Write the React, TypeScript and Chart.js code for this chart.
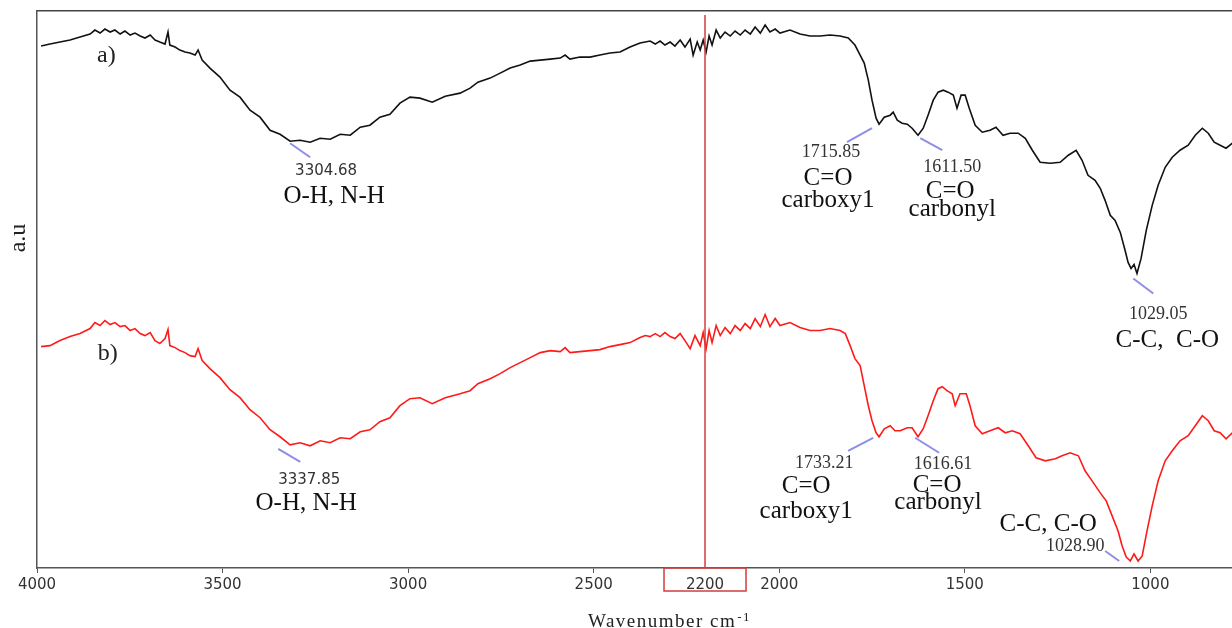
import React, { useEffect, useRef } from "react";
import { Chart, registerables } from "chart.js";

Chart.register(...registerables);

// ---- Spectrum a) (black) ----
const wavenumbersA = [
  3989, 3965, 3938, 3911, 3884, 3857, 3844, 3830, 3817, 3803,
  3790, 3776, 3763, 3749, 3736, 3722, 3709, 3695, 3682, 3669,
  3655, 3647, 3642, 3628, 3615, 3601, 3588, 3574, 3566, 3555,
  3534, 3507, 3480, 3453, 3426, 3399, 3372, 3345, 3318, 3291,
  3264, 3237, 3210, 3183, 3156, 3129, 3103, 3076, 3049, 3022,
  2995, 2968, 2935, 2900, 2860, 2833, 2812, 2779, 2752, 2725,
  2698, 2671, 2644, 2617, 2590, 2577, 2564, 2537, 2510, 2483,
  2456, 2429, 2402, 2375, 2361, 2348, 2334, 2321, 2308, 2294,
  2281, 2267, 2254, 2240, 2232, 2221, 2213, 2205, 2197, 2189,
  2181, 2170, 2159, 2146, 2132, 2119, 2105, 2092, 2078, 2065,
  2051, 2038, 2025, 2011, 1998, 1971, 1944, 1917, 1890, 1863,
  1836, 1814, 1796, 1782, 1771, 1760, 1750, 1739, 1731, 1717,
  1701, 1693, 1682, 1669, 1655, 1642, 1626, 1612, 1599, 1585,
  1572, 1558, 1545, 1531, 1521, 1510, 1499, 1488, 1472, 1453,
  1432, 1416, 1397, 1378, 1356, 1337, 1318, 1297, 1270, 1243,
  1221, 1200, 1184, 1168, 1149, 1135, 1122, 1108, 1095, 1081,
  1068, 1060, 1052, 1044, 1036, 1025, 1011, 995, 979, 960,
  941, 920, 898, 879, 860, 844, 828, 812, 796, 779,
];
const intensityA = [
  521, 523, 525, 527, 530, 533, 537, 534, 538, 535,
  537, 533, 536, 532, 534, 531, 529, 532, 527, 525,
  523, 535, 522, 520, 517, 515, 514, 512, 517, 507,
  499, 490, 477, 470, 457, 450, 437, 433, 426, 427,
  425, 429, 428, 433, 432, 440, 442, 450, 453, 464,
  470, 469, 465, 471, 474, 479, 485, 489, 494, 499,
  502, 506, 507, 508, 509, 512, 508, 510, 510, 512,
  514, 515, 520, 524, 525, 526, 523, 526, 522, 525,
  521, 527, 520, 528, 512, 525, 517, 527, 515, 531,
  522, 537, 529, 535, 531, 536, 532, 537, 533, 540,
  534, 542, 535, 538, 534, 537, 533, 531, 531, 532,
  531, 529, 522, 512, 504, 487, 467, 449, 443, 450,
  452, 455, 447, 444, 443, 439, 432, 439, 452, 467,
  475, 477, 475, 472, 459, 472, 472, 459, 442, 435,
  437, 440, 432, 434, 434, 429, 417, 405, 404, 405,
  412, 417, 407, 392, 387, 379, 367, 352, 347, 335,
  317, 305, 299, 303, 294, 309, 337, 362, 382, 400,
  410, 417, 422, 432, 439, 434, 425, 422, 419, 424,
];

// ---- Spectrum b) (red) ----
const wavenumbersB = [
  3989, 3965, 3938, 3911, 3884, 3857, 3844, 3830, 3817, 3803,
  3790, 3776, 3763, 3749, 3736, 3722, 3709, 3695, 3682, 3669,
  3655, 3647, 3642, 3628, 3615, 3601, 3588, 3574, 3566, 3555,
  3534, 3507, 3480, 3453, 3426, 3399, 3372, 3345, 3318, 3291,
  3264, 3237, 3210, 3183, 3156, 3129, 3103, 3076, 3049, 3022,
  2995, 2968, 2935, 2900, 2860, 2833, 2812, 2779, 2752, 2725,
  2698, 2671, 2644, 2617, 2590, 2577, 2564, 2537, 2510, 2483,
  2456, 2429, 2402, 2375, 2361, 2348, 2334, 2321, 2308, 2294,
  2281, 2267, 2254, 2240, 2227, 2213, 2205, 2197, 2189, 2181,
  2170, 2159, 2146, 2132, 2119, 2105, 2092, 2078, 2065, 2051,
  2038, 2025, 2011, 1998, 1971, 1944, 1917, 1890, 1863, 1836,
  1822, 1809, 1796, 1782, 1771, 1760, 1750, 1739, 1731, 1717,
  1701, 1688, 1674, 1655, 1642, 1626, 1612, 1599, 1585, 1572,
  1561, 1548, 1534, 1526, 1513, 1496, 1486, 1472, 1453, 1432,
  1410, 1391, 1372, 1351, 1329, 1308, 1283, 1256, 1238, 1216,
  1194, 1176, 1157, 1135, 1119, 1103, 1087, 1076, 1065, 1054,
  1044, 1033, 1022, 1009, 995, 979, 960, 941, 920, 898,
  879, 860, 844, 828, 812, 796, 779,
];
const intensityB = [
  221, 222, 227, 231, 234, 239, 245, 242, 247, 243,
  245, 241, 242, 237, 239, 234, 232, 235, 227, 224,
  229, 238, 222, 220, 217, 215, 212, 211, 219, 207,
  199, 190, 178, 170, 158, 150, 138, 131, 123, 125,
  122, 127, 125, 130, 129, 136, 138, 146, 150, 162,
  169, 170, 164, 170, 174, 177, 184, 189, 194, 200,
  205, 210, 215, 217, 216, 220, 215, 216, 217, 218,
  221, 223, 225, 230, 232, 231, 234, 231, 235, 231,
  229, 234, 227, 219, 232, 222, 235, 219, 237, 225,
  242, 232, 240, 234, 242, 237, 244, 239, 249, 241,
  253, 241, 249, 242, 245, 240, 237, 237, 239, 237,
  234, 222, 209, 202, 182, 162, 147, 135, 131, 139,
  142, 137, 137, 140, 140, 131, 139, 152, 167, 179,
  181, 177, 174, 162, 174, 174, 162, 142, 134, 137,
  140, 135, 137, 134, 122, 110, 107, 109, 112, 115,
  112, 97, 87, 75, 67, 52, 37, 22, 11, 7,
  14, 7, 12, 37, 62, 87, 107, 117, 127, 132,
  142, 152, 147, 137, 135, 129, 135,
];

// ---- Axis / markers ----
const tickValues = [4000, 3500, 3000, 2500, 2200, 2000, 1500, 1000];
const markerWavenumber = 2200;
const markerTop = 552;
const xMin = 780;
const xMax = 4000;
const yMin = 0;
const yMax = 556;

const xTitle = "Wavenumber cm";
const xTitleSup = "-1";
const yTitle = "a.u";

// series labels: [text, wavenumber, intensity]
const seriesLabels: [string, number, number][] = [
  ["a)", 3838, 505],
  ["b)", 3836, 208],
];

// peak annotations: anchor on curve, leader offset, text lines [text, dx, dy, style]
type PeakNote = {
  x: number;
  y: number;
  lead: [number, number, number, number];
  texts: [string, number, number, string][];
};
const peakNotes: PeakNote[] = [
  { x: 3318, y: 424, lead: [0, 0, 20, 14], texts: [["3304.68", 36, 32, "numSans"], ["O-H, N-H", 44, 60, "big"]] },
  { x: 1750, y: 439, lead: [0, 0, -25, 14], texts: [["1715.85", -41, 29, "numSerif"], ["C=O", -44, 57, "big"], ["carboxy1", -44, 79, "big"]] },
  { x: 1620, y: 429, lead: [0, 0, 22, 12], texts: [["1611.50", 32, 34, "numSerif"], ["C=O", 30, 60, "big"], ["carbonyl", 32, 78, "big"]] },
  { x: 1046, y: 289, lead: [0, 0, 20, 15], texts: [["1029.05", 25, 41, "numSerif"], ["C-C,  C-O", 34, 69, "big"]] },
  { x: 3350, y: 119, lead: [0, 0, 22, 13], texts: [["3337.85", 31, 35, "numSans"], ["O-H, N-H", 28, 61, "big"]] },
  { x: 1747, y: 130, lead: [0, 0, -25, 13], texts: [["1733.21", -49, 30, "numSerif"], ["C=O", -67, 55, "big"], ["carboxy1", -67, 80, "big"]] },
  { x: 1634, y: 130, lead: [0, 0, 24, 15], texts: [["1616.61", 28, 31, "numSerif"], ["C=O", 22, 54, "big"], ["carbonyl", 23, 71, "big"]] },
  { x: 1084, y: 7, lead: [0, 0, -14, -10], texts: [["1028.90", -44, -10, "numSerif"], ["C-C, C-O", -71, -30, "big"]] },
];

const fonts: Record<string, string> = {
  numSans: '15px "DejaVu Sans"',
  numSerif: '18px "Liberation Serif"',
  big: '25px "Liberation Serif"',
  series: '24px "Liberation Serif"',
};
const textColors: Record<string, string> = {
  numSans: "#333",
  numSerif: "#333",
  big: "#111",
  series: "#222",
};

const overlayPlugin = {
  id: "ftirOverlay",
  afterDatasetsDraw(chart: any) {
    const { ctx, chartArea, scales } = chart;
    const xs = scales.x;
    const ys = scales.y;
    ctx.save();

    // red box around 2200 label
    const bx = xs.getPixelForValue(markerWavenumber);
    ctx.strokeStyle = "#d43c3c";
    ctx.lineWidth = 1.5;
    ctx.strokeRect(bx - 41, chartArea.bottom, 82, 23);

    // peak notes
    for (const n of peakNotes) {
      const px = xs.getPixelForValue(n.x);
      const py = ys.getPixelForValue(n.y);
      ctx.strokeStyle = "#8e8ee6";
      ctx.lineWidth = 2;
      ctx.beginPath();
      ctx.moveTo(px + n.lead[0], py + n.lead[1]);
      ctx.lineTo(px + n.lead[2], py + n.lead[3]);
      ctx.stroke();
      ctx.textAlign = "center";
      ctx.textBaseline = "alphabetic";
      for (const t of n.texts) {
        ctx.font = fonts[t[3]];
        ctx.fillStyle = textColors[t[3]];
        ctx.fillText(t[0], px + t[1], py + t[2]);
      }
    }

    // series labels
    ctx.textAlign = "left";
    ctx.font = fonts.series;
    ctx.fillStyle = textColors.series;
    for (const s of seriesLabels) {
      ctx.fillText(s[0], xs.getPixelForValue(s[1]), ys.getPixelForValue(s[2]));
    }

    // x title with superscript
    ctx.fillStyle = "#222";
    ctx.font = '19px "Liberation Serif"';
    (ctx as any).letterSpacing = "1.5px";
    const tx = chartArea.left + 551;
    const ty = chart.height - 1;
    ctx.fillText(xTitle, tx, ty);
    const w = ctx.measureText(xTitle).width;
    ctx.font = '13px "Liberation Serif"';
    ctx.fillText(xTitleSup, tx + w + 1, ty - 6);
    (ctx as any).letterSpacing = "0px";

    // y title
    ctx.save();
    ctx.translate(chartArea.left - 12, chartArea.top + 227);
    ctx.rotate(-Math.PI / 2);
    ctx.textAlign = "center";
    ctx.font = '24px "Liberation Serif"';
    ctx.fillStyle = "#222";
    ctx.fillText(yTitle, 0, 0);
    ctx.restore();

    ctx.restore();
  },
};

export default function App() {
  const canvasRef = useRef<HTMLCanvasElement | null>(null);

  useEffect(() => {
    if (!canvasRef.current) return;
    const chart = new Chart(canvasRef.current, {
      type: "line",
      data: {
        datasets: [
          {
            label: "2200 marker",
            data: [
              { x: markerWavenumber, y: yMin },
              { x: markerWavenumber, y: markerTop },
            ],
            borderColor: "#d43c3c",
            borderWidth: 1.5,
            pointRadius: 0,
            order: -1,
          },
          {
            label: "a)",
            data: wavenumbersA.map((x, i) => ({ x, y: intensityA[i] })),
            borderColor: "#111111",
            borderWidth: 1.6,
            pointRadius: 0,
            tension: 0,
          },
          {
            label: "b)",
            data: wavenumbersB.map((x, i) => ({ x, y: intensityB[i] })),
            borderColor: "#ff1a1a",
            borderWidth: 1.6,
            pointRadius: 0,
            tension: 0,
          },
        ],
      },
      options: {
        animation: false,
        responsive: false,
        devicePixelRatio: 1,
        layout: { padding: { top: 11, left: 37, right: 0, bottom: 31 } },
        plugins: {
          legend: { display: false },
          tooltip: { enabled: false },
        },
        scales: {
          x: {
            type: "linear",
            reverse: true,
            min: xMin,
            max: xMax,
            afterBuildTicks: (scale: any) => {
              scale.ticks = tickValues.map((v) => ({ value: v }));
            },
            ticks: {
              autoSkip: false,
              maxRotation: 0,
              padding: 3,
              color: "#333",
              font: { family: "DejaVu Sans", size: 15 },
              callback: (v: any) => String(v),
            },
            grid: {
              display: true,
              drawOnChartArea: false,
              drawTicks: true,
              tickLength: 5,
              color: (c: any) => (c.tick && c.tick.value === markerWavenumber ? "rgba(0,0,0,0)" : "#555"),
            },
            border: { display: true, color: "#555", width: 1.5 },
          },
          xTop: {
            type: "linear",
            position: "top",
            min: xMin,
            max: xMax,
            reverse: true,
            ticks: { display: false },
            grid: { display: false, drawTicks: false },
            border: { display: true, color: "#444", width: 1.5 },
          },
          y: {
            type: "linear",
            min: yMin,
            max: yMax,
            ticks: { display: false },
            grid: { display: false, drawTicks: false },
            border: { display: true, color: "#555", width: 1.5 },
          },
        },
      },
      plugins: [overlayPlugin],
    } as any);
    return () => chart.destroy();
  }, []);

  return (
    <div style={{ position: "absolute", left: 0, top: 0, width: 1232, height: 628, background: "#fff" }}>
      <canvas ref={canvasRef} width={1232} height={628} />
    </div>
  );
}
